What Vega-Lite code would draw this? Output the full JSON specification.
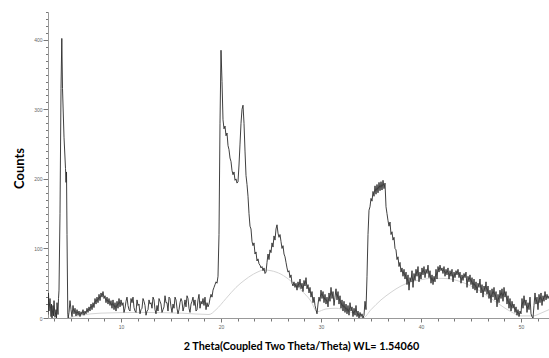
{
  "$schema": "https://vega.github.io/schema/vega-lite/v6.json",
  "width": 501,
  "height": 306,
  "autosize": {"type": "none"},
  "padding": {"left": 48, "top": 12, "right": 0, "bottom": 40},
  "background": "white",
  "config": {"view": {"stroke": null}},
  "datasets": {
    "scan": [
      {"t":2.7,"c":5},{"t":2.75,"c":36},{"t":2.8,"c":10},{"t":2.9,"c":28},{"t":3.0,"c":2},{"t":3.05,"c":20},{"t":3.1,"c":0},{"t":3.2,"c":18},{"t":3.25,"c":3},{"t":3.3,"c":25},{"t":3.4,"c":1},{"t":3.5,"c":12},{"t":3.55,"c":0},{"t":3.6,"c":22},{"t":3.7,"c":5},{"t":3.75,"c":28},{"t":3.8,"c":40},
      {"t":3.9,"c":150},{"t":4.0,"c":330},{"t":4.08,"c":402},{"t":4.15,"c":330},{"t":4.3,"c":260},{"t":4.45,"c":215},{"t":4.5,"c":195},{"t":4.55,"c":210},{"t":4.6,"c":120},{"t":4.68,"c":5},{"t":4.72,"c":0},
      {"t":4.8,"c":8},{"t":4.9,"c":25},{"t":5.0,"c":12},{"t":5.1,"c":2},{"t":5.2,"c":18},{"t":5.3,"c":6},{"t":5.4,"c":14},{"t":5.5,"c":3},{"t":5.6,"c":12},{"t":5.7,"c":4},{"t":5.8,"c":10},{"t":5.9,"c":2},{"t":6.0,"c":9},{"t":6.1,"c":5},{"t":6.2,"c":12},{"t":6.3,"c":4},{"t":6.4,"c":10},{"t":6.5,"c":6},{"t":6.6,"c":14},{"t":6.7,"c":8},{"t":6.8,"c":16},{"t":6.9,"c":10},{"t":7.0,"c":20},{"t":7.1,"c":12},{"t":7.2,"c":22},{"t":7.3,"c":15},{"t":7.4,"c":28},{"t":7.5,"c":20},{"t":7.6,"c":30},{"t":7.7,"c":22},{"t":7.8,"c":34},{"t":7.9,"c":25},{"t":8.0,"c":36},{"t":8.1,"c":30},{"t":8.2,"c":38},{"t":8.3,"c":28},{"t":8.4,"c":32},{"t":8.5,"c":22},{"t":8.6,"c":30},{"t":8.7,"c":20},{"t":8.8,"c":28},{"t":8.9,"c":18},{"t":9.0,"c":25},{"t":9.1,"c":14},{"t":9.2,"c":26},{"t":9.3,"c":12},{"t":9.4,"c":22},{"t":9.5,"c":10},{"t":9.6,"c":24},{"t":9.7,"c":14},{"t":9.8,"c":28},{"t":9.9,"c":16},
      {"t":10.0,"c":26},{"t":10.1,"c":18},{"t":10.2,"c":22},{"t":10.3,"c":8},{"t":10.4,"c":14},{"t":10.5,"c":24},{"t":10.6,"c":30},{"t":10.7,"c":18},{"t":10.8,"c":12},{"t":10.9,"c":10},{"t":11.0,"c":28},{"t":11.1,"c":22},{"t":11.2,"c":30},{"t":11.3,"c":15},{"t":11.4,"c":10},{"t":11.5,"c":8},{"t":11.6,"c":26},{"t":11.7,"c":18},{"t":11.8,"c":20},{"t":11.9,"c":6},{"t":12.0,"c":12},{"t":12.1,"c":14},{"t":12.2,"c":28},{"t":12.3,"c":24},{"t":12.4,"c":18},{"t":12.5,"c":4},{"t":12.6,"c":10},{"t":12.7,"c":12},{"t":12.8,"c":26},{"t":12.9,"c":20},{"t":13.0,"c":22},{"t":13.1,"c":14},{"t":13.2,"c":30},{"t":13.3,"c":26},{"t":13.4,"c":12},{"t":13.5,"c":6},{"t":13.6,"c":18},{"t":13.7,"c":10},{"t":13.8,"c":28},{"t":13.9,"c":24},{"t":14.0,"c":20},{"t":14.1,"c":8},{"t":14.2,"c":12},{"t":14.3,"c":16},{"t":14.4,"c":32},{"t":14.5,"c":22},{"t":14.6,"c":22},{"t":14.7,"c":10},{"t":14.8,"c":30},{"t":14.9,"c":28},{"t":15.0,"c":16},{"t":15.1,"c":8},{"t":15.2,"c":20},{"t":15.3,"c":14},{"t":15.4,"c":30},{"t":15.5,"c":26},{"t":15.6,"c":14},{"t":15.7,"c":6},{"t":15.8,"c":12},{"t":15.9,"c":22},{"t":16.0,"c":28},{"t":16.1,"c":24},{"t":16.2,"c":10},{"t":16.3,"c":16},{"t":16.4,"c":26},{"t":16.5,"c":16},{"t":16.6,"c":32},{"t":16.7,"c":28},{"t":16.8,"c":14},{"t":16.9,"c":8},{"t":17.0,"c":20},{"t":17.1,"c":24},{"t":17.2,"c":30},{"t":17.3,"c":18},{"t":17.4,"c":26},{"t":17.5,"c":10},{"t":17.6,"c":12},{"t":17.7,"c":26},{"t":17.8,"c":34},{"t":17.9,"c":14},{"t":18.0,"c":24},{"t":18.1,"c":20},{"t":18.2,"c":28},{"t":18.3,"c":18},{"t":18.4,"c":30},{"t":18.5,"c":12},{"t":18.6,"c":22},{"t":18.7,"c":16},{"t":18.8,"c":20},{"t":18.9,"c":28},{"t":19.0,"c":34},{"t":19.1,"c":30},{"t":19.2,"c":40},{"t":19.3,"c":44},{"t":19.4,"c":48},{"t":19.5,"c":52},{"t":19.6,"c":50},{"t":19.7,"c":60},{"t":19.8,"c":120},{"t":19.9,"c":280},
      {"t":20.0,"c":385},{"t":20.1,"c":340},{"t":20.2,"c":285},{"t":20.3,"c":272},{"t":20.4,"c":276},{"t":20.5,"c":262},{"t":20.6,"c":266},{"t":20.7,"c":248},{"t":20.8,"c":242},{"t":20.9,"c":230},{"t":21.0,"c":225},{"t":21.1,"c":212},{"t":21.2,"c":206},{"t":21.3,"c":210},{"t":21.4,"c":198},{"t":21.5,"c":200},{"t":21.6,"c":194},{"t":21.7,"c":196},{"t":21.8,"c":220},{"t":21.9,"c":250},{"t":22.0,"c":280},{"t":22.1,"c":300},{"t":22.2,"c":306},{"t":22.3,"c":280},{"t":22.4,"c":240},{"t":22.5,"c":205},{"t":22.6,"c":192},{"t":22.7,"c":175},{"t":22.8,"c":150},{"t":22.9,"c":132},{"t":23.0,"c":128},{"t":23.1,"c":110},{"t":23.2,"c":104},{"t":23.3,"c":108},{"t":23.4,"c":92},{"t":23.5,"c":95},{"t":23.6,"c":82},{"t":23.7,"c":85},{"t":23.8,"c":78},{"t":23.9,"c":76},{"t":24.0,"c":72},{"t":24.1,"c":74},{"t":24.2,"c":68},{"t":24.3,"c":72},{"t":24.4,"c":64},{"t":24.5,"c":66},{"t":24.6,"c":80},{"t":24.7,"c":92},{"t":24.8,"c":84},{"t":24.9,"c":98},{"t":25.0,"c":94},{"t":25.1,"c":108},{"t":25.2,"c":102},{"t":25.3,"c":118},{"t":25.4,"c":112},{"t":25.5,"c":128},{"t":25.6,"c":134},{"t":25.7,"c":122},{"t":25.8,"c":116},{"t":25.9,"c":120},{"t":26.0,"c":110},{"t":26.1,"c":100},{"t":26.2,"c":104},{"t":26.3,"c":92},{"t":26.4,"c":88},{"t":26.5,"c":80},{"t":26.6,"c":72},{"t":26.7,"c":66},{"t":26.8,"c":68},{"t":26.9,"c":58},{"t":27.0,"c":62},{"t":27.1,"c":50},{"t":27.2,"c":46},{"t":27.3,"c":52},{"t":27.4,"c":44},{"t":27.5,"c":50},{"t":27.6,"c":40},{"t":27.7,"c":52},{"t":27.8,"c":44},{"t":27.9,"c":56},{"t":28.0,"c":42},{"t":28.1,"c":50},{"t":28.2,"c":38},{"t":28.3,"c":54},{"t":28.4,"c":46},{"t":28.5,"c":58},{"t":28.6,"c":42},{"t":28.7,"c":48},{"t":28.8,"c":36},{"t":28.9,"c":44},{"t":29.0,"c":30},{"t":29.1,"c":38},{"t":29.2,"c":22},{"t":29.3,"c":30},{"t":29.4,"c":18},{"t":29.5,"c":12},{"t":29.6,"c":6},{"t":29.7,"c":20},{"t":29.8,"c":30},{"t":29.9,"c":24},
      {"t":30.0,"c":40},{"t":30.1,"c":28},{"t":30.2,"c":38},{"t":30.3,"c":22},{"t":30.4,"c":34},{"t":30.5,"c":20},{"t":30.6,"c":30},{"t":30.7,"c":16},{"t":30.8,"c":36},{"t":30.9,"c":24},{"t":31.0,"c":44},{"t":31.1,"c":28},{"t":31.2,"c":38},{"t":31.3,"c":18},{"t":31.4,"c":30},{"t":31.5,"c":42},{"t":31.6,"c":26},{"t":31.7,"c":38},{"t":31.8,"c":20},{"t":31.9,"c":32},{"t":32.0,"c":14},{"t":32.1,"c":26},{"t":32.2,"c":10},{"t":32.3,"c":24},{"t":32.4,"c":8},{"t":32.5,"c":20},{"t":32.6,"c":6},{"t":32.7,"c":18},{"t":32.8,"c":4},{"t":32.9,"c":22},{"t":33.0,"c":10},{"t":33.1,"c":16},{"t":33.2,"c":2},{"t":33.3,"c":14},{"t":33.4,"c":4},{"t":33.5,"c":18},{"t":33.6,"c":2},{"t":33.7,"c":10},{"t":33.8,"c":0},{"t":33.9,"c":8},{"t":34.0,"c":2},{"t":34.1,"c":6},{"t":34.2,"c":0},{"t":34.3,"c":4},{"t":34.4,"c":24},{"t":34.5,"c":12},{"t":34.6,"c":60},{"t":34.7,"c":120},{"t":34.8,"c":155},{"t":34.9,"c":160},{"t":35.0,"c":172},{"t":35.1,"c":168},{"t":35.2,"c":182},{"t":35.3,"c":175},{"t":35.4,"c":190},{"t":35.5,"c":178},{"t":35.6,"c":192},{"t":35.7,"c":180},{"t":35.8,"c":195},{"t":35.9,"c":183},{"t":36.0,"c":196},{"t":36.1,"c":184},{"t":36.2,"c":198},{"t":36.3,"c":186},{"t":36.4,"c":194},{"t":36.5,"c":160},{"t":36.6,"c":150},{"t":36.7,"c":140},{"t":36.8,"c":132},{"t":36.9,"c":138},{"t":37.0,"c":120},{"t":37.1,"c":124},{"t":37.2,"c":112},{"t":37.3,"c":116},{"t":37.4,"c":100},{"t":37.5,"c":98},{"t":37.6,"c":84},{"t":37.7,"c":88},{"t":37.8,"c":74},{"t":37.9,"c":80},{"t":38.0,"c":66},{"t":38.1,"c":72},{"t":38.2,"c":60},{"t":38.3,"c":70},{"t":38.4,"c":56},{"t":38.5,"c":66},{"t":38.6,"c":48},{"t":38.7,"c":62},{"t":38.8,"c":40},{"t":38.9,"c":58},{"t":39.0,"c":52},{"t":39.1,"c":68},{"t":39.2,"c":44},{"t":39.3,"c":64},{"t":39.4,"c":54},{"t":39.5,"c":70},{"t":39.6,"c":60},{"t":39.7,"c":74},{"t":39.8,"c":52},{"t":39.9,"c":66},
      {"t":40.0,"c":56},{"t":40.1,"c":72},{"t":40.2,"c":62},{"t":40.3,"c":74},{"t":40.4,"c":58},{"t":40.5,"c":70},{"t":40.6,"c":64},{"t":40.7,"c":76},{"t":40.8,"c":58},{"t":40.9,"c":68},{"t":41.0,"c":50},{"t":41.1,"c":62},{"t":41.2,"c":48},{"t":41.3,"c":60},{"t":41.4,"c":52},{"t":41.5,"c":70},{"t":41.6,"c":56},{"t":41.7,"c":74},{"t":41.8,"c":66},{"t":41.9,"c":76},{"t":42.0,"c":68},{"t":42.1,"c":72},{"t":42.2,"c":64},{"t":42.3,"c":74},{"t":42.4,"c":60},{"t":42.5,"c":70},{"t":42.6,"c":62},{"t":42.7,"c":72},{"t":42.8,"c":56},{"t":42.9,"c":68},{"t":43.0,"c":60},{"t":43.1,"c":70},{"t":43.2,"c":52},{"t":43.3,"c":66},{"t":43.4,"c":58},{"t":43.5,"c":68},{"t":43.6,"c":62},{"t":43.7,"c":70},{"t":43.8,"c":58},{"t":43.9,"c":66},{"t":44.0,"c":50},{"t":44.1,"c":62},{"t":44.2,"c":54},{"t":44.3,"c":64},{"t":44.4,"c":58},{"t":44.5,"c":66},{"t":44.6,"c":44},{"t":44.7,"c":60},{"t":44.8,"c":52},{"t":44.9,"c":62},{"t":45.0,"c":48},{"t":45.1,"c":58},{"t":45.2,"c":42},{"t":45.3,"c":56},{"t":45.4,"c":40},{"t":45.5,"c":52},{"t":45.6,"c":36},{"t":45.7,"c":50},{"t":45.8,"c":44},{"t":45.9,"c":56},{"t":46.0,"c":36},{"t":46.1,"c":48},{"t":46.2,"c":30},{"t":46.3,"c":46},{"t":46.4,"c":38},{"t":46.5,"c":52},{"t":46.6,"c":34},{"t":46.7,"c":46},{"t":46.8,"c":28},{"t":46.9,"c":40},{"t":47.0,"c":22},{"t":47.1,"c":42},{"t":47.2,"c":30},{"t":47.3,"c":44},{"t":47.4,"c":26},{"t":47.5,"c":38},{"t":47.6,"c":16},{"t":47.7,"c":34},{"t":47.8,"c":22},{"t":47.9,"c":40},{"t":48.0,"c":28},{"t":48.1,"c":42},{"t":48.2,"c":24},{"t":48.3,"c":44},{"t":48.4,"c":30},{"t":48.5,"c":38},{"t":48.6,"c":20},{"t":48.7,"c":32},{"t":48.8,"c":14},{"t":48.9,"c":28},{"t":49.0,"c":10},{"t":49.1,"c":24},{"t":49.2,"c":14},{"t":49.3,"c":20},{"t":49.4,"c":8},{"t":49.5,"c":16},{"t":49.6,"c":4},{"t":49.7,"c":12},{"t":49.8,"c":2},{"t":49.9,"c":10},
      {"t":50.0,"c":6},{"t":50.1,"c":28},{"t":50.2,"c":14},{"t":50.3,"c":32},{"t":50.4,"c":18},{"t":50.5,"c":26},{"t":50.6,"c":8},{"t":50.7,"c":22},{"t":50.8,"c":12},{"t":50.9,"c":30},{"t":51.0,"c":6},{"t":51.1,"c":2},{"t":51.2,"c":0},{"t":51.3,"c":18},{"t":51.4,"c":36},{"t":51.5,"c":20},{"t":51.6,"c":30},{"t":51.7,"c":12},{"t":51.8,"c":34},{"t":51.9,"c":22},{"t":52.0,"c":36},{"t":52.1,"c":18},{"t":52.2,"c":32},{"t":52.3,"c":24},{"t":52.4,"c":38},{"t":52.5,"c":26},{"t":52.6,"c":34},{"t":52.7,"c":28},{"t":52.8,"c":32}
    ],
    "bg": [
      {"t":4.7,"c":0},{"t":6,"c":4},{"t":8,"c":7},{"t":12,"c":8},{"t":16,"c":7},{"t":18.8,"c":5},
      {"t":19.5,"c":12},{"t":20.5,"c":28},{"t":21.5,"c":44},{"t":22.5,"c":56},{"t":23.5,"c":65},{"t":24.3,"c":69},{"t":25,"c":68},{"t":26,"c":63},{"t":27,"c":53},{"t":28,"c":40},{"t":29,"c":24},{"t":29.6,"c":9},
      {"t":30.5,"c":13},{"t":31.5,"c":14},{"t":32.5,"c":11},{"t":33.5,"c":5},{"t":34.2,"c":0},
      {"t":35,"c":12},{"t":36,"c":26},{"t":37,"c":37},{"t":38,"c":46},{"t":39,"c":52},{"t":40,"c":55},{"t":41,"c":57},{"t":42,"c":57},{"t":43,"c":56},{"t":44,"c":52},{"t":45,"c":46},{"t":46,"c":38},{"t":47,"c":28},{"t":48,"c":18},{"t":49,"c":9},{"t":50,"c":3},{"t":51.2,"c":3},{"t":52,"c":7},{"t":52.8,"c":12}
    ]
  },
  "encoding": {
    "x": {
      "field": "t", "type": "quantitative",
      "scale": {"domain": [2.7, 52.8], "nice": false, "zero": false},
      "axis": {
        "title": "2 Theta(Coupled Two Theta/Theta) WL= 1.54060",
        "titleFont": "Lato", "titleFontSize": 10.8, "titleFontWeight": "bold", "titleColor": "#000",
        "titleX": 253, "titleY": 28, "titleBaseline": "middle", "titleAlign": "center", "titleAnchor": null,
        "values": [3.33,5,6.67,8.33,10,11.67,13.33,15,16.67,18.33,20,21.67,23.33,25,26.67,28.33,30,31.67,33.33,35,36.67,38.33,40,41.67,43.33,45,46.67,48.33,50,51.67],
        "labelExpr": "abs(datum.value - round(datum.value/10)*10) < 0.01 ? datum.label : ''",
        "labelFontSize": 5, "labelColor": "#666", "labelFont": "Liberation Sans", "labelPadding": 2,
        "tickSize": {"condition": {"test": "abs(datum.value - round(datum.value/10)*10) < 0.01", "value": 4}, "value": 3},
        "tickColor": "#777", "domainColor": "#999", "grid": false
      }
    },
    "y": {
      "field": "c", "type": "quantitative",
      "scale": {"domain": [0, 440], "nice": false},
      "axis": {
        "title": "Counts",
        "titleFont": "Lato", "titleFontSize": 13, "titleFontWeight": "bold", "titleColor": "#000",
        "titleX": -29, "titleY": 156, "titleAngle": -90, "titleBaseline": "middle", "titleAlign": "center", "titleAnchor": null,
        "values": [0,10,20,30,40,50,60,70,80,90,100,110,120,130,140,150,160,170,180,190,200,210,220,230,240,250,260,270,280,290,300,310,320,330,340,350,360,370,380,390,400,410,420,430,440],
        "labelExpr": "datum.value % 100 === 0 ? datum.label : ''",
        "labelFontSize": 5, "labelColor": "#666", "labelFont": "Liberation Sans", "labelPadding": 1,
        "tickSize": {"condition": {"test": "datum.value % 100 === 0", "value": 5}, "value": 2.5},
        "tickColor": "#777", "domainColor": "#999", "grid": false
      }
    }
  },
  "layer": [
    {"data": {"name": "bg"}, "mark": {"type": "line", "interpolate": "monotone", "color": "#d4d4d4", "strokeWidth": 1, "clip": true}},
    {"data": {"name": "scan"}, "mark": {"type": "line", "color": "#2a2a2a", "strokeWidth": 0.9, "clip": true}}
  ]
}
